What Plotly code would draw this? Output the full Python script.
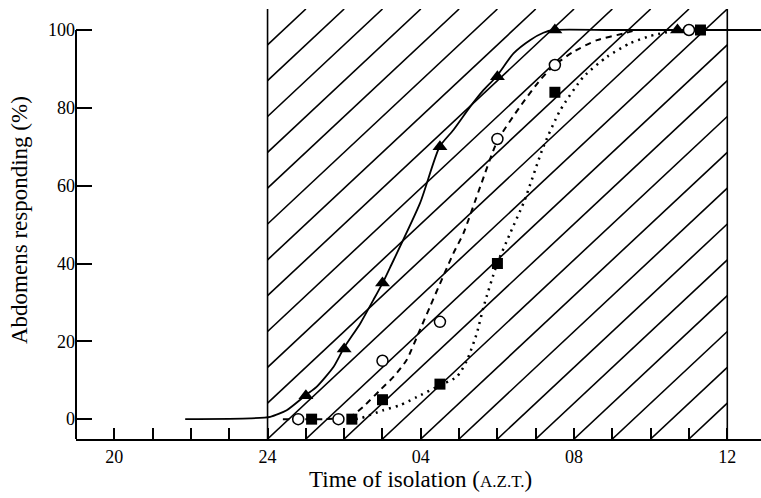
import plotly.graph_objects as go

# measured points: hours after 20:00 continue past 24 (28 = 04, 32 = 08, 36 = 12)
tri_hours = [25, 26, 27, 28.5, 30, 31.5, 34.7]
tri_pct = [6, 18, 35, 70, 88, 100, 100]
circ_hours = [24.8, 25.85, 27, 28.5, 30, 31.5, 35.0]
circ_pct = [0, 0, 15, 25, 72, 91, 100]
sq_hours = [25.15, 26.2, 27, 28.5, 30, 31.5, 35.3]
sq_pct = [0, 0, 5, 9, 40, 84, 100]

# hand-drawn fitted curves
solid_hours = [21.85, 23.55, 24.07, 24.5, 25.0, 25.28, 25.72, 26.0, 26.42, 26.76, 27.02, 27.2,
               27.98, 28.49, 28.85, 29.29, 29.64, 29.97, 30.42, 30.85, 31.2, 31.46, 33.0, 36.88]
solid_pct = [0, 0.2, 0.6, 2.3, 6.2, 8.3, 13.4, 18.4, 24.6, 30.6, 35.3, 39,
             55.5, 70, 74.3, 80.3, 84.6, 88, 94, 97.4, 99.3, 100, 100, 100]
dashed_hours = [24.4, 25.5, 26.15, 26.5, 26.94, 27.3, 27.63, 27.98, 28.24, 28.85, 29.11, 29.55,
                30.0, 30.59, 31.11, 31.46, 31.98, 32.6, 33.29, 33.64]
dashed_pct = [0, 0, 0.6, 3.2, 7.5, 11, 15.2, 23, 28.9, 42.6, 47.7, 59.7,
              71.5, 80.3, 87.1, 90.7, 94.4, 97.4, 99.1, 100]
dotted_hours = [26.3, 26.42, 27.02, 27.46, 27.9, 28.42, 28.94, 29.2, 29.46, 29.64, 29.98, 30.33,
                30.7, 31.2, 31.64, 32.25, 32.86, 33.46, 34.0, 34.5]
dotted_pct = [0, 0.2, 2.3, 3.6, 5.7, 8.3, 10.9, 15, 22, 28.9, 39.6, 47.7,
              56, 70, 79.4, 88, 93.1, 96.6, 98.5, 99.6]

tick_hours = list(range(20, 37))
tick_names = {20: "20", 24: "24", 28: "04", 32: "08", 36: "12"}
pct_ticks = [0, 20, 40, 60, 80, 100]

dark_start, dark_end = 24, 36
y_lo, y_hi = -5.1, 105.4
x_lo, x_hi = 19.0, 36.88

FONT = "Liberation Serif, Times New Roman, serif"

# diagonal hatching of the dark period: each line runs from hour k at the axis to k+12 at the top
hx, hy = [], []
for k in range(12, 36):
    t0 = max(0, (dark_start - k) / 12)
    t1 = min(1, (dark_end - k) / 12)
    if t0 >= t1:
        continue
    hx += [k + 12 * t0, k + 12 * t1, None]
    hy += [y_lo + (y_hi - y_lo) * t0, y_lo + (y_hi - y_lo) * t1, None]
for edge in (dark_start, dark_end):
    hx += [edge, edge, None]
    hy += [y_lo, y_hi, None]

fig = go.Figure()
fig.add_trace(go.Scatter(x=hx, y=hy, mode="lines", line=dict(color="black", width=1.6),
                         hoverinfo="skip"))

fig.add_trace(go.Scatter(x=solid_hours, y=solid_pct, mode="lines",
                         line=dict(color="black", width=1.8, shape="spline", smoothing=0.6)))
fig.add_trace(go.Scatter(x=dashed_hours, y=dashed_pct, mode="lines",
                         line=dict(color="black", width=2, dash="6px,5px", shape="spline", smoothing=0.6)))
fig.add_trace(go.Scatter(x=dotted_hours, y=dotted_pct, mode="lines",
                         line=dict(color="black", width=2.5, dash="2px,5px", shape="spline", smoothing=0.6)))

fig.add_trace(go.Scatter(x=tri_hours, y=tri_pct, mode="markers",
                         marker=dict(symbol="triangle-up", size=13, color="black")))
fig.add_trace(go.Scatter(x=circ_hours, y=circ_pct, mode="markers",
                         marker=dict(symbol="circle", size=11, color="white",
                                     line=dict(color="black", width=1.5))))
fig.add_trace(go.Scatter(x=sq_hours, y=sq_pct, mode="markers",
                         marker=dict(symbol="square", size=11, color="black")))

# y axis line only runs from the bottom to 100 %
fig.add_shape(type="line", xref="paper", yref="y", x0=0, x1=0, y0=y_lo, y1=100,
              line=dict(color="black", width=2))

fig.add_annotation(text="Time of isolation (<span style='font-size:17px'>A.Z.T.</span>)",
                   xref="paper", yref="paper", x=(420 - 76) / 685, y=-(479 - 439) / 430,
                   xanchor="center", yanchor="middle",
                   showarrow=False, font=dict(family=FONT, size=23, color="black"))
fig.add_annotation(text="Abdomens responding (%)", textangle=-90,
                   xref="paper", yref="paper", x=(19 - 76) / 685, y=(439 - 220) / 430,
                   xanchor="center", yanchor="middle",
                   showarrow=False, font=dict(family=FONT, size=23, color="black"))

fig.update_layout(
    width=761, height=498,
    margin=dict(l=76, r=0, t=9, b=59),
    paper_bgcolor="white", plot_bgcolor="white",
    showlegend=False,
    font=dict(family=FONT, size=18, color="black"),
    xaxis=dict(range=[x_lo, x_hi], showgrid=False, zeroline=False,
               showline=True, linecolor="black", linewidth=2,
               tickmode="array", tickvals=tick_hours,
               ticktext=[tick_names.get(h, "") for h in tick_hours],
               ticks="inside", ticklen=11, tickwidth=1.5, tickcolor="black"),
    yaxis=dict(range=[y_lo, y_hi], showgrid=False, zeroline=False, showline=False,
               tickmode="array", tickvals=pct_ticks,
               ticks="inside", ticklen=16, tickwidth=1.5, tickcolor="black"),
)

# drop the page's default 8px body margin so the figure sits at the window corner
fig.write_html("out.html", config={"displayModeBar": False},
               post_script="document.body.style.margin = '0';")
